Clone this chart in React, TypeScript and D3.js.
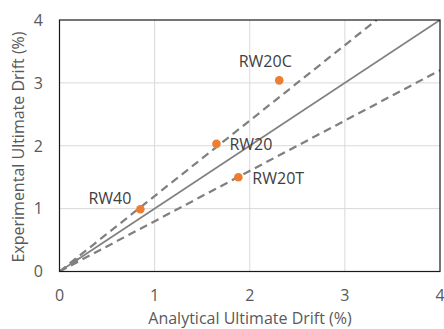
import React, { useRef, useEffect } from "react";
import * as d3 from "d3";

// specimens and drift values (%)
const specimens = ["RW40", "RW20", "RW20T", "RW20C"];
const analyticalDrift = [0.85, 1.65, 1.88, 2.31];
const experimentalDrift = [0.99, 2.03, 1.5, 3.04];

// reference lines: y = k * x
const equalityFactor = 1;
const boundFactors = [1.2, 0.8];

// small grey marker on the equality line
const originMarker = [0.17, 0.17];

const xTicks = [0, 1, 2, 3, 4];
const yTicks = [0, 1, 2, 3, 4];

const App = () => {
  const svgRef = useRef<SVGSVGElement>(null);

  useEffect(() => {
    const width = 444, height = 329;
    const margin = { top: 20, right: 4, bottom: 57.5, left: 59.5 };
    const font = "Open Sans, 'Noto Sans', sans-serif";
    const grey = "#595959";
    const fs = "16px";

    const svg = d3.select(svgRef.current)
      .attr("width", width)
      .attr("height", height)
      .style("background", "#fff");

    svg.selectAll("*").remove();

    const x = d3.scaleLinear().domain([0, 4]).range([margin.left, width - margin.right]);
    const y = d3.scaleLinear().domain([0, 4]).range([height - margin.bottom, margin.top]);

    // gridlines
    svg.append("g")
      .selectAll("line")
      .data(xTicks.slice(1, -1))
      .enter()
      .append("line")
      .attr("x1", d => x(d)).attr("x2", d => x(d))
      .attr("y1", y(0)).attr("y2", y(4))
      .attr("stroke", "#d9d9d9").attr("stroke-width", 1);

    svg.append("g")
      .selectAll("line")
      .data(yTicks.slice(1, -1))
      .enter()
      .append("line")
      .attr("x1", x(0)).attr("x2", x(4))
      .attr("y1", d => y(d)).attr("y2", d => y(d))
      .attr("stroke", "#d9d9d9").attr("stroke-width", 1);

    svg.append("clipPath").attr("id", "plotclip")
      .append("rect")
      .attr("x", x(0)).attr("y", y(4))
      .attr("width", x(4) - x(0)).attr("height", y(0) - y(4));

    const line = d3.line<number[]>().x(d => x(d[0])).y(d => y(d[1]));
    const refLine = (k: number) => {
      const xEnd = Math.min(4, 4 / k);
      return [[0, 0], [xEnd, k * xEnd]];
    };

    const lines = svg.append("g").attr("clip-path", "url(#plotclip)");

    boundFactors.forEach(k => {
      lines.append("path")
        .attr("d", line(refLine(k)))
        .attr("fill", "none")
        .attr("stroke", "#808080")
        .attr("stroke-width", 2.25)
        .attr("stroke-dasharray", "8,5");
    });

    lines.append("path")
      .attr("d", line(refLine(equalityFactor)))
      .attr("fill", "none")
      .attr("stroke", "#808080")
      .attr("stroke-width", 1.75);

    lines.append("path")
      .attr("d", d3.symbol(d3.symbolDiamond, 22)())
      .attr("transform", `translate(${x(originMarker[0])},${y(originMarker[1])}) rotate(45)`)
      .attr("fill", "#808080");

    // frame
    svg.append("rect")
      .attr("x", x(0)).attr("y", y(4))
      .attr("width", x(4) - x(0)).attr("height", y(0) - y(4))
      .attr("fill", "none")
      .attr("stroke", "#1a1a1a")
      .attr("stroke-width", 1.2);

    // points
    const pts = specimens.map((s, i) => ({ s, ax: analyticalDrift[i], ex: experimentalDrift[i] }));
    svg.append("g")
      .selectAll("circle")
      .data(pts)
      .enter()
      .append("circle")
      .attr("cx", d => x(d.ax))
      .attr("cy", d => y(d.ex))
      .attr("r", 4.3)
      .attr("fill", "#ED7D31");

    // label placement
    const labelPos: Record<string, [number, number, string]> = {
      RW40: [-9, -5, "end"],
      RW20: [13, 6, "start"],
      RW20T: [14, 7, "start"],
      RW20C: [-14, -13, "middle"],
    };

    svg.append("g")
      .selectAll("text")
      .data(pts)
      .enter()
      .append("text")
      .attr("x", d => x(d.ax) + labelPos[d.s][0])
      .attr("y", d => y(d.ex) + labelPos[d.s][1])
      .attr("text-anchor", d => labelPos[d.s][2])
      .style("font-family", font)
      .style("font-size", fs)
      .attr("fill", "#404040")
      .text(d => d.s);

    // tick labels
    svg.append("g")
      .selectAll("text")
      .data(xTicks)
      .enter()
      .append("text")
      .attr("x", d => x(d))
      .attr("y", 301)
      .attr("text-anchor", "middle")
      .style("font-family", font)
      .style("font-size", fs)
      .attr("fill", grey)
      .text(d => d);

    svg.append("g")
      .selectAll("text")
      .data(yTicks)
      .enter()
      .append("text")
      .attr("x", 43)
      .attr("y", d => y(d))
      .attr("dy", "0.36em")
      .attr("text-anchor", "end")
      .style("font-family", font)
      .style("font-size", fs)
      .attr("fill", grey)
      .text(d => d);

    // axis titles
    svg.append("text")
      .attr("x", 250)
      .attr("y", 323.5)
      .attr("text-anchor", "middle")
      .style("font-family", font)
      .style("font-size", fs)
      .attr("fill", grey)
      .text("Analytical Ultimate Drift (%)");

    svg.append("text")
      .attr("transform", "rotate(-90)")
      .attr("x", -147)
      .attr("y", 24)
      .attr("text-anchor", "middle")
      .style("font-family", font)
      .style("font-size", fs)
      .attr("fill", grey)
      .text("Experimental Ultimate Drift (%)");
  }, []);

  return (
    <svg ref={svgRef} style={{ position: "absolute", left: 0, top: 0, display: "block" }}></svg>
  );
};

export default App;
